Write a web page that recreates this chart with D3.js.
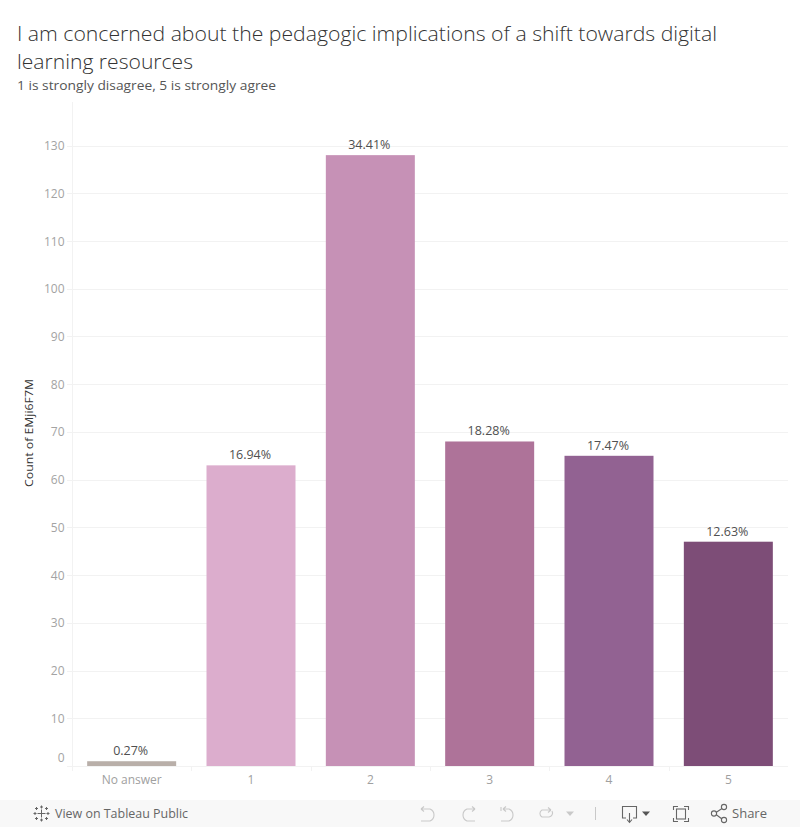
<!DOCTYPE html>
<html><head><meta charset="utf-8">
<script src="https://cdn.jsdelivr.net/npm/d3@7"></script>
<style>
html,body{margin:0;padding:0;background:#fff}
svg{display:block}
text{font-family:"Open Sans",sans-serif}
</style></head><body>
<svg id="c" width="800" height="827"></svg>
<script>
const categories=["No answer","1","2","3","4","5"];
const counts=[1,63,128,68,65,47];
const percentLabels=["0.27%","16.94%","34.41%","18.28%","17.47%","12.63%"];
const barColors=["#b9afa9","#dcadcd","#c691b6","#ae7399","#926292","#7d4d77"];
const yTicks=[0,10,20,30,40,50,60,70,80,90,100,110,120,130];
const titleLines=["I am concerned about the pedagogic implications of a shift towards digital","learning resources"];
const subtitle="1 is strongly disagree, 5 is strongly agree";
const yTitle="Count of EMji6F7M";

const svg=d3.select("#c");
const plot={left:72,right:788,top:102,bottom:766};
const x=d3.scaleBand().domain(categories).range([plot.left,plot.right]).paddingInner(0).paddingOuter(0);
const y=d3.scaleLinear().domain([0,130]).range([plot.bottom,145.6]);
const barW=89;

// title
svg.selectAll("text.title").data(titleLines).join("text").attr("class","title")
  .attr("x",17).attr("y",(d,i)=>41+i*28).attr("fill","#333")
  .attr("font-size",20).attr("font-weight",300)
  .attr("textLength",(d,i)=>i===0?700:176).attr("lengthAdjust","spacingAndGlyphs").text(d=>d);
svg.append("text").attr("x",17).attr("y",90).attr("fill","#555").attr("font-size",12.5)
  .attr("textLength",259).attr("lengthAdjust","spacingAndGlyphs").text(subtitle);

// grid
svg.append("g").selectAll("line").data(yTicks).join("line")
  .attr("x1",plot.left-5).attr("x2",plot.right).attr("y1",d=>Math.round(y(d))+.5).attr("y2",d=>Math.round(y(d))+.5)
  .attr("stroke","#f2f2f2");
svg.append("line").attr("x1",plot.left+.5).attr("x2",plot.left+.5).attr("y1",plot.top).attr("y2",plot.bottom+5).attr("stroke","#f2f2f2");
// band ticks
svg.append("g").selectAll("line").data(categories.slice(1)).join("line")
  .attr("x1",d=>Math.round(x(d))+.5).attr("x2",d=>Math.round(x(d))+.5)
  .attr("y1",plot.bottom).attr("y2",plot.bottom+5).attr("stroke","#f2f2f2");

// y labels
svg.append("g").selectAll("text").data(yTicks).join("text")
  .attr("x",64.5).attr("y",d=>d===0?y(d)-4:y(d)+4.5).attr("text-anchor","end")
  .attr("fill","#a3a3a3").attr("font-size",12).text(d=>d);
svg.append("text").attr("transform","translate(33,433) rotate(-90)").attr("text-anchor","middle")
  .attr("fill","#333").attr("font-size",11).attr("font-weight",500)
  .attr("textLength",108).attr("lengthAdjust","spacingAndGlyphs").text(yTitle);

// bars
svg.append("g").selectAll("rect").data(categories).join("rect")
  .attr("x",d=>x(d)+x.bandwidth()/2-barW/2).attr("width",barW)
  .attr("y",(d,i)=>y(counts[i])).attr("height",(d,i)=>plot.bottom-y(counts[i]))
  .attr("fill",(d,i)=>barColors[i]);
svg.append("g").selectAll("text").data(categories).join("text")
  .attr("x",d=>x(d)+x.bandwidth()/2-1).attr("y",(d,i)=>y(counts[i])-6).attr("text-anchor","middle")
  .attr("fill","#505050").attr("font-size",12.5).text((d,i)=>percentLabels[i]);
svg.append("g").selectAll("text").data(categories).join("text")
  .attr("x",d=>x(d)+x.bandwidth()/2).attr("y",784).attr("text-anchor","middle")
  .attr("fill","#a0a0a0").attr("font-size",12).text(d=>d);

// toolbar
const bar=svg.append("g");
bar.append("rect").attr("x",0).attr("y",800).attr("width",800).attr("height",27).attr("fill","#f8f8f8");
// logo
const logo=bar.append("g").attr("stroke","#666").attr("stroke-width",1).attr("fill","none");
[[41.5,813.5,4],[35,813.5,1.5],[48,813.5,1.5],[41.5,807,1.5],[41.5,820,1.5],[36.5,808.5,1.5],[46.5,808.5,1.5],[36.5,818.5,1.5],[46.5,818.5,1.5]].forEach(([cx,cy,r])=>{
  logo.append("path").attr("d",`M${cx-r} ${cy}H${cx+r}M${cx} ${cy-r}V${cy+r}`);
});
bar.append("text").attr("x",55).attr("y",818).attr("fill","#666").attr("font-size",12).attr("font-weight",500)
  .attr("textLength",133).attr("lengthAdjust","spacingAndGlyphs").text("View on Tableau Public");
const dim="#c9c9c9";
const ic=bar.append("g").attr("fill","none").attr("stroke",dim).attr("stroke-width",1.1);
ic.append("path").attr("d","M421 809H430A6.5 6.5 0 0 1 430 821H421M421 809l3-2.5M421 809l3 2.5");
ic.append("path").attr("d","M475 809H467A6.5 6.5 0 0 0 467 821H475M475 809l-3-2.5M475 809l-3 2.5");
ic.append("path").attr("d","M501 807V811M503 809H509A6.5 6.5 0 0 1 509 821H501M503 809l3-2.5M503 809l3 2.5");
ic.append("path").attr("d","M551 810H542A4 4 0 0 0 542 817H549A4 4 0 0 0 552 811M551 810l-3-2.5M551 810l-3 2.5");
bar.append("path").attr("d","M566 811.5H574L570 816Z").attr("fill",dim);
bar.append("line").attr("x1",595.5).attr("x2",595.5).attr("y1",807).attr("y2",820).attr("stroke",dim);
const dk=bar.append("g").attr("fill","none").attr("stroke","#666").attr("stroke-width",1.1);
dk.append("path").attr("d","M626 818H622.5V806.5H636.5V818H633M629.5 813V822M627 819.5l2.5 3 2.5-3");
bar.append("path").attr("d","M642 811.5H650L646 816Z").attr("fill","#555");
dk.append("path").attr("d","M673.5 810V806.5H678M684 806.5H688.5V810M688.5 818V821.5H684M678 821.5H673.5V818");
dk.append("rect").attr("x",676.5).attr("y",809).attr("width",9).attr("height",10);
dk.append("path").attr("d","M716 812.5L722 808.5M716 814.5L722 819");
[[714,813.5],[724,807],[724,820]].forEach(([cx,cy])=>dk.append("circle").attr("cx",cx).attr("cy",cy).attr("r",2.6));
bar.append("text").attr("x",732).attr("y",818).attr("fill","#666").attr("font-size",12).attr("font-weight",500)
  .attr("textLength",35).attr("lengthAdjust","spacingAndGlyphs").text("Share");
</script></body></html>
